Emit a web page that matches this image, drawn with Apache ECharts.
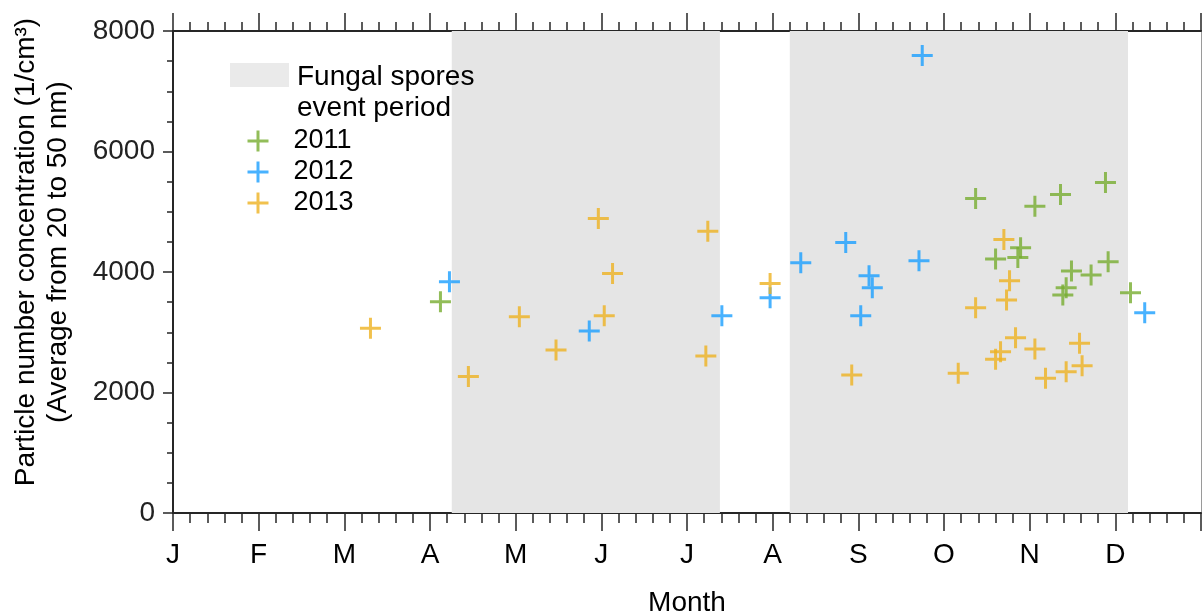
<!DOCTYPE html>
<html>
<head>
<meta charset="utf-8">
<script src="https://cdn.jsdelivr.net/npm/echarts@6/dist/echarts.min.js"></script>
<style>html,body{margin:0;padding:0;background:#fff}#c{width:1202px;height:614px}</style>
</head>
<body>
<div id="c"></div>
<script>
// ---- data ----
var monthLabels = ['J','F','M','A','M','J','J','A','S','O','N','D',''];
var yTicks = [0, 2000, 4000, 6000, 8000];
// fungal spores event periods (in month units from 1 Jan)
var periodStart = [3.254, 7.200];
var periodEnd   = [6.384, 11.148];
// 2011
var month2011 = [3.122, 9.369, 10.061, 9.894, 9.602, 9.862, 10.360, 10.885, 10.916, 10.488, 10.717, 10.426, 10.387, 11.177];
var value2011 = [3506, 5219, 5092, 4401, 4214, 4242, 5286, 5485, 4169, 4015, 3949, 3738, 3617, 3655];
// 2012
var month2012 = [3.227, 4.859, 6.407, 6.970, 7.328, 7.853, 8.125, 8.163, 8.028, 8.746, 8.708, 11.343];
var value2012 = [3838, 3021, 3274, 3573, 4153, 4490, 3937, 3738, 3274, 7594, 4186, 3324];
// 2013
var month2013 = [2.305, 3.448, 4.043, 4.471, 4.965, 5.131, 5.034, 6.243, 6.220, 6.970, 7.923, 9.699, 9.765, 9.730, 9.369, 9.835, 9.660, 9.602, 10.061, 9.166, 10.582, 10.612, 10.426, 10.185];
var value2013 = [3065, 2264, 3258, 2706, 4888, 3977, 3274, 4678, 2606, 3811, 2292, 4540, 3854, 3534, 3407, 2910, 2678, 2552, 2722, 2320, 2817, 2446, 2346, 2237];

var fungalName = 'Fungal spores\nevent period';
var FONT = '"Liberation Sans", Arial, Helvetica, sans-serif';
var AX = '#262626';
var plus = 'path://M9,0h3v9h9v3h-9v9h-3v-9h-9v-3h9z';

function pts(m, v) { return m.map(function (x, i) { return [x, v[i]]; }); }
var areas = periodStart.map(function (s, i) { return [{ xAxis: s }, { xAxis: periodEnd[i] }]; });

var baseX = {
  type: 'value', min: 0, max: 12, interval: 1,
  axisLine: { show: true, onZero: false, lineStyle: { color: AX, width: 2 } },
  axisTick: { show: true, length: 18, lineStyle: { color: AX, width: 1.5 } },
  minorTick: { show: true, splitNumber: 5, length: 10, lineStyle: { color: AX, width: 1.5 } },
  splitLine: { show: false }, minorSplitLine: { show: false }
};

var chart = echarts.init(document.getElementById('c'), null, { renderer: 'canvas' });
chart.setOption({
  animation: false,
  backgroundColor: '#fff',
  textStyle: { fontFamily: FONT },
  grid: { left: 173, right: 1, top: 31, bottom: 101, containLabel: false, outerBoundsMode: 'none' },
  xAxis: [
    Object.assign({}, baseX, {
      position: 'bottom',
      name: 'Month', nameLocation: 'middle', nameGap: 76,
      nameTextStyle: { fontSize: 28, color: '#000', fontFamily: FONT },
      axisLabel: {
        fontSize: 28, color: '#000', fontFamily: FONT, margin: 28,
        formatter: function (v) { return monthLabels[Math.round(v)] || ''; }
      }
    }),
    Object.assign({}, baseX, {
      position: 'top',
      axisTick: { show: true, length: 18, lineStyle: { color: AX, width: 1.5 } },
      minorTick: { show: true, splitNumber: 5, length: 9, lineStyle: { color: AX, width: 1.5 } },
      axisLabel: { show: false }
    })
  ],
  yAxis: [
    {
      type: 'value', min: yTicks[0], max: yTicks[yTicks.length - 1], interval: 2000,
      position: 'left',
      name: 'Particle number concentration (1/cm³)\n(Average from 20 to 50 nm)',
      nameLocation: 'middle', nameGap: 99, nameRotate: 90,
      nameTextStyle: { fontSize: 28, color: '#000', fontFamily: FONT, lineHeight: 32, padding: [0, 0, 0, 40] },
      axisLine: { show: true, onZero: false, lineStyle: { color: AX, width: 2 } },
      axisTick: { show: true, length: 10, lineStyle: { color: AX, width: 1.5 } },
      minorTick: { show: true, splitNumber: 4, length: 6, lineStyle: { color: AX, width: 1.5 } },
      axisLabel: { fontSize: 28, color: '#222', fontFamily: FONT, margin: 18,
        formatter: function (v) { return String(v); } },
      splitLine: { show: false }
    },
    {
      type: 'value', min: 0, max: 8000, interval: 2000, position: 'right',
      axisLine: { show: true, onZero: false, lineStyle: { color: '#9a9a9a', width: 1 } },
      axisTick: { show: false }, axisLabel: { show: false }, splitLine: { show: false }
    }
  ],
  legend: [
    {
      left: 225, top: 56.5, orient: 'vertical', selectedMode: false,
      itemWidth: 59, itemHeight: 62,
      data: [{ name: fungalName, icon: 'path://M0,1.5h59v24h-59zM0,0h0.01v0.01h-0.01zM0,62h0.01v0.01h-0.01z' }],
      textStyle: { fontSize: 28, color: '#000', fontFamily: FONT, lineHeight: 31, padding: [0, 0, 0, 3] }
    },
    {
      left: 242.5, top: 122.5, orient: 'vertical', selectedMode: false,
      itemWidth: 21, itemHeight: 21, itemGap: 4,
      data: ['2011', '2012', '2013'],
      textStyle: { fontSize: 27, color: '#000', fontFamily: FONT, lineHeight: 21, padding: [0, 0, 0, 20] }
    }
  ],
  series: [
    {
      name: fungalName, type: 'scatter', data: [], z: 1,
      itemStyle: { color: '#E5E5E5' },
      markArea: { silent: true, itemStyle: { color: '#E5E5E5' }, data: areas }
    },
    { name: '2011', type: 'scatter', symbol: plus, symbolSize: 21, z: 3, itemStyle: { color: '#77AC30' }, data: pts(month2011, value2011) },
    { name: '2012', type: 'scatter', symbol: plus, symbolSize: 21, z: 3, itemStyle: { color: '#1A9FFF' }, data: pts(month2012, value2012) },
    { name: '2013', type: 'scatter', symbol: plus, symbolSize: 21, z: 3, itemStyle: { color: '#EDB120' }, data: pts(month2013, value2013) }
  ]
});
</script>
</body>
</html>
